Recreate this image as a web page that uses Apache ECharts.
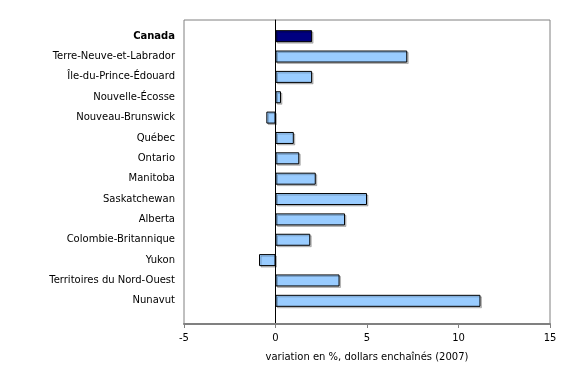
<!DOCTYPE html>
<html><head><meta charset="utf-8">
<script src="https://cdn.jsdelivr.net/npm/echarts@6/dist/echarts.min.js"></script>
<style>html,body{margin:0;padding:0;background:#fff}#c{width:580px;height:365px}</style>
</head><body><div id="c"></div>
<script>
const categories = ["Canada","Terre-Neuve-et-Labrador","Île-du-Prince-Édouard","Nouvelle-Écosse","Nouveau-Brunswick","Québec","Ontario","Manitoba","Saskatchewan","Alberta","Colombie-Britannique","Yukon","Territoires du Nord-Ouest","Nunavut"];
const values = [2.0, 7.2, 2.0, 0.3, -0.5, 1.0, 1.3, 2.2, 5.0, 3.8, 1.9, -0.9, 3.5, 11.2];
const axisTitle = "variation en %, dollars enchaînés (2007)";
const xMin = -5, xMax = 15, xStep = 5;

const font = "Verdana, 'DejaVu Sans', sans-serif";
const chart = echarts.init(document.getElementById('c'), null, {renderer:'canvas'});
chart.setOption({
  animation:false,
  grid:[
    {left:184,right:30,top:26,bottom:54,outerBoundsMode:'none',containLabel:false,show:false},
    {left:184,right:30,top:20,bottom:41,outerBoundsMode:'none',containLabel:false,show:true,borderColor:'#808080',borderWidth:1,backgroundColor:'transparent'}
  ],
  xAxis:[
    {gridIndex:0,type:'value',min:xMin,max:xMax,interval:xStep,show:false},
    {gridIndex:1,type:'value',min:xMin,max:xMax,interval:xStep,
      name:axisTitle,nameLocation:'middle',nameGap:28,
      nameTextStyle:{fontFamily:font,fontSize:10,color:'#000'},
      axisLine:{show:true,onZero:false,lineStyle:{color:'#808080',width:2}},
      axisTick:{show:true,length:4,lineStyle:{color:'#808080',width:1}},
      axisLabel:{fontFamily:font,fontSize:10,color:'#000',margin:9},
      splitLine:{show:false}}
  ],
  yAxis:[
    {gridIndex:0,type:'category',data:categories,inverse:true,
      axisLine:{show:false},axisTick:{show:false},splitLine:{show:false},
      axisLabel:{fontFamily:font,fontSize:10,color:'#000',margin:9,
        formatter:(v,i)=> i===0 ? '{b|'+v+'}' : v,
        rich:{b:{fontFamily:font,fontSize:10,fontWeight:'bold',color:'#000'}}}},
    {gridIndex:1,type:'value',min:0,max:1,
      axisLine:{show:true,onZero:true,lineStyle:{color:'#000',width:1}},
      axisTick:{show:false},axisLabel:{show:false},splitLine:{show:false}}
  ],
  series:[{type:'bar',xAxisIndex:0,yAxisIndex:0,barWidth:12,
    data:values.map((v,i)=>({value:v,itemStyle:{color:i===0?'#000080':'#99ccff'}})),
    itemStyle:{borderColor:'#000',borderWidth:1,shadowColor:'rgba(0,0,0,0.22)',shadowOffsetX:1.5,shadowOffsetY:1.5,shadowBlur:0}
  }]
});
</script></body></html>
